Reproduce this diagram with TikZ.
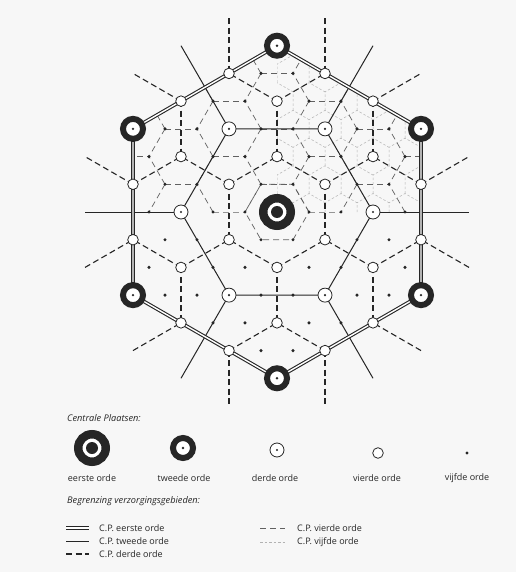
\documentclass[tikz,border=0pt]{standalone}
\usepackage{fontspec}
\newfontfamily\lgfont{Open Sans}
\newcommand\hexedge[5]{%
  \pgfmathtruncatemacro\hA{max(abs(2*(#2)+(#3)),abs((#2)+2*(#3)),abs((#3)-(#2)))}%
  \pgfmathtruncatemacro\hB{max(abs(2*(#4)+(#5)),abs((#4)+2*(#5)),abs((#5)-(#4)))}%
  \pgfmathtruncatemacro\hOk{and(or(\hA<10,\hB<10),not(and(\hA==9,\hB==9)))}%
  \ifnum\hOk=1
    \pgfmathtruncatemacro\eIa{(#2)+20}\pgfmathtruncatemacro\eJa{(#3)+20}%
    \pgfmathtruncatemacro\eIb{(#4)+20}\pgfmathtruncatemacro\eJb{(#5)+20}%
    \draw[#1] (c\eIa-\eJa) -- (c\eIb-\eJb);%
  \fi}
\tikzset{
  derde/.style={line width=1.1pt, black!85, dash pattern=on 6pt off 3.5pt},
  vierde/.style={line width=0.7pt, black!62, dash pattern=on 6pt off 4pt},
  vijfde/.style={line width=0.5pt, black!30, dash pattern=on 2.5pt off 2pt},
  tweede/.style={line width=1pt, black!85},
  eerste/.style={line width=1.1pt, draw=black!85, double=white, double distance=1.4pt},
  lev1/.style={circle, draw=black!85, line width=8.5pt, fill=white, minimum size=27.5pt, inner sep=0pt,
    path picture={\fill[black!85] (path picture bounding box.center) circle (6pt);}},
  lev2/.style={circle, draw=black!85, line width=6pt, fill=white, minimum size=20pt, inner sep=0pt,
    path picture={\fill[black!85] (path picture bounding box.center) circle (1.3pt);}},
  lev3/.style={circle, draw=black!85, line width=0.8pt, fill=white, minimum size=14pt, inner sep=0pt,
    path picture={\fill[black!85] (path picture bounding box.center) circle (1.2pt);}},
  lev4/.style={circle, draw=black!85, line width=0.8pt, fill=white, minimum size=10.6pt, inner sep=0pt},
  lev5/.style={circle, fill=black!85, minimum size=3.4pt, inner sep=0pt},
  lgtext/.style={font=\lgfont\fontsize{9}{10}\selectfont, text=black!85, inner sep=0pt},
  lgit/.style={font=\lgfont\itshape\fontsize{9.2}{10}\selectfont, text=black!85, inner sep=0pt},
}
\begin{document}
\begin{tikzpicture}[x=1pt,y=-1pt]
\fill[black!3] (0,0) rectangle (516,572);
\useasboundingbox (0,0) rectangle (516,572);
% lattice coordinates
\foreach \i in {-13,...,13}{\foreach \j in {-10,...,10}{%
  \pgfmathtruncatemacro\ii{\i+20}\pgfmathtruncatemacro\jj{\j+20}%
  \coordinate (c\ii-\jj) at ({277+32*((\i)+0.5*(\j))},{212-27.7128*(\j)});
}}
% fifth-order boundaries (upper right quadrant)
\begin{scope}
  \clip (277,212.6) -- (c17-26) -- (c23-23) -- (421,212.6) -- cycle;
  \foreach \i in {-6,...,10}{\foreach \j in {-1,...,7}{%
    \pgfmathtruncatemacro\ii{\i+20}\pgfmathtruncatemacro\jj{\j+20}%
    \draw[vijfde] (c\ii-\jj) +(-30:18.475pt) -- +(30:18.475pt) -- +(90:18.475pt) -- +(150:18.475pt);
  }}
\end{scope}
% fourth-order boundaries (upper half)
\begin{scope}
  \clip (133,212.6) -- (c14-23) -- (c17-26) -- (c23-23) -- (421,212.6) -- cycle;
  \foreach \i in {-10,...,10}{\foreach \j in {-1,...,7}{%
    \pgfmathtruncatemacro\md{mod(\i-\j+30,3)}%
    \ifnum\md=1
      \pgfmathtruncatemacro\ii{\i+20}\pgfmathtruncatemacro\jj{\j+20}%
      \pgfmathtruncatemacro\ip{\i+21}\pgfmathtruncatemacro\im{\i+19}%
      \pgfmathtruncatemacro\jp{\j+21}\pgfmathtruncatemacro\jm{\j+19}%
      \draw[vierde] (c\ii-\jj) -- (c\ip-\jj);
      \draw[vierde] (c\ii-\jj) -- (c\ii-\jm);
      \draw[vierde] (c\ii-\jj) -- (c\im-\jp);
    \fi
  }}
\end{scope}
\draw[vierde] (c21-20) -- (c20-21) -- (c19-21) -- (c19-20) -- (c20-19) -- (c21-19) -- cycle;
% third-order boundaries
\foreach \i in {-10,...,10}{\foreach \j in {-8,...,8}{%
  \pgfmathtruncatemacro\mi{mod(\i+30,3)}\pgfmathtruncatemacro\mj{mod(\j+30,3)}%
  \ifnum\mi=1 \ifnum\mj=1
    \hexedge{derde}{\i}{\j}{\i+1}{\j+1}%
    \hexedge{derde}{\i}{\j}{\i-2}{\j+1}%
    \hexedge{derde}{\i}{\j}{\i+1}{\j-2}%
  \fi\fi
}}
% second-order boundaries
\draw[tweede] (c23-20) -- (c20-23) -- (c17-23) -- (c17-20) -- (c20-17) -- (c23-17) -- cycle;
\draw[tweede] (c23-20) -- (c26-20);
\draw[tweede] (c20-23) -- (c20-26);
\draw[tweede] (c17-23) -- (c14-26);
\draw[tweede] (c17-20) -- (c14-20);
\draw[tweede] (c20-17) -- (c20-14);
\draw[tweede] (c23-17) -- (c26-14);
% first-order boundary
\draw[eerste] (c23-23) -- (c17-26) -- (c14-23) -- (c17-17) -- (c23-14) -- (c26-17) -- cycle;
% central places
\foreach \i in {-9,...,9}{\foreach \j in {-6,...,6}{%
  \pgfmathtruncatemacro\hh{max(abs(2*(\i)+(\j)),abs((\i)+2*(\j)),abs((\j)-(\i)))}%
  \ifnum\hh<10
    \pgfmathtruncatemacro\ii{\i+20}\pgfmathtruncatemacro\jj{\j+20}%
    \pgfmathtruncatemacro\lv{ifthenelse(and(\i==0,\j==0),1,ifthenelse(and(mod(\i+30,3)==0,mod(\j+30,3)==0),ifthenelse(mod((\i-\j)/3+30,3)==0,2,3),ifthenelse(mod(\i-\j+30,3)==0,4,5)))}%
    \node[lev\lv] (m\ii-\jj) at (c\ii-\jj) {};
  \fi
}}
% legend
\node[lgit, anchor=west] (tcp) at (67,418) {Centrale Plaatsen:};
\node[lev1] (lg1) at (92,448) {};
\node[lev2] (lg2) at (183,448) {};
\node[lev3] (lg3) at (277,450) {};
\node[lev4] (lg4) at (378,453) {};
\node[lev5] (lg5) at (467,453) {};
\node[lgtext] (tl1) at (92,478) {eerste orde};
\node[lgtext] (tl2) at (184,478) {tweede orde};
\node[lgtext] (tl3) at (275,478) {derde orde};
\node[lgtext] (tl4) at (377,478) {vierde orde};
\node[lgtext] (tl5) at (467,478) {vijfde orde};
\node[lgit, anchor=west] (tbg) at (67,501) {Begrenzing verzorgingsgebieden:};
\coordinate (la1) at (66,528); \coordinate (lb1) at (89,528);
\coordinate (la2) at (66,541); \coordinate (lb2) at (89,541);
\coordinate (la3) at (66,554); \coordinate (lb3) at (89,554);
\coordinate (la4) at (260,528); \coordinate (lb4) at (285,528);
\coordinate (la5) at (260,542); \coordinate (lb5) at (285,542);
\draw[eerste] (la1) -- (lb1);
\draw[tweede] (la2) -- (lb2);
\draw[derde] (la3) -- (lb3);
\draw[vierde, line width=0.8pt] (la4) -- (lb4);
\draw[vijfde, line width=0.6pt] (la5) -- (lb5);
\node[lgtext, anchor=west] (te1) at (99,528) {C.P. eerste orde};
\node[lgtext, anchor=west] (te2) at (99,541) {C.P. tweede orde};
\node[lgtext, anchor=west] (te3) at (99,554) {C.P. derde orde};
\node[lgtext, anchor=west] (te4) at (297,528) {C.P. vierde orde};
\node[lgtext, anchor=west] (te5) at (297,542) {C.P. vijfde orde};
\end{tikzpicture}
\end{document}
